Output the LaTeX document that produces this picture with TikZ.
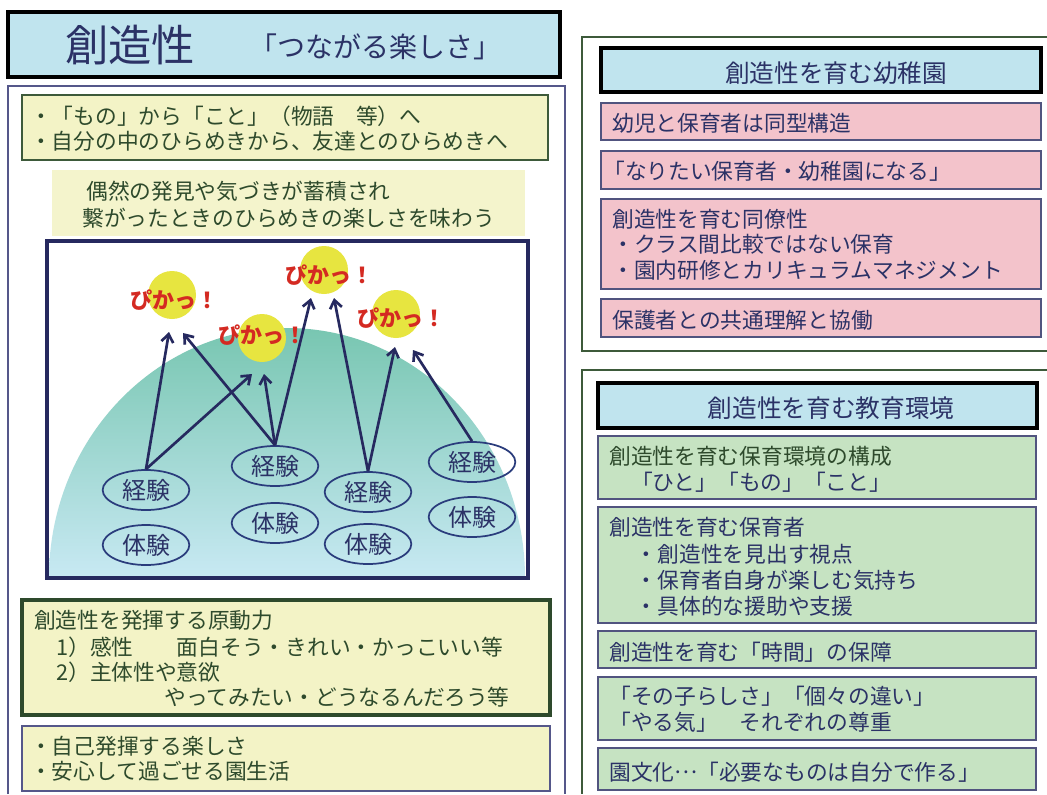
\documentclass[tikz,border=0pt]{standalone}
\usepackage{fontspec}
\newfontfamily\jp{Noto Sans CJK JP}
\usetikzlibrary{arrows.meta,shapes.geometric}
\definecolor{navyT}{HTML}{2B3266}
\definecolor{greenT}{HTML}{2E4A2C}
\definecolor{navyB}{HTML}{26295F}
\definecolor{frameL}{HTML}{55578A}
\definecolor{frameR}{HTML}{3D5A3A}
\definecolor{skyF}{HTML}{C0E4EE}
\definecolor{yelF}{HTML}{F3F3C6}
\definecolor{yel2F}{HTML}{F4F4CC}
\definecolor{pinkF}{HTML}{F3C3CB}
\definecolor{grnF}{HTML}{C6E3C2}
\definecolor{domeTop}{HTML}{78C6B1}
\definecolor{domeBot}{HTML}{C8E9F3}
\definecolor{sunY}{HTML}{E7E540}
\definecolor{pikaR}{HTML}{D42A22}
\definecolor{ovalB}{HTML}{2A3C7C}
\tikzset{
  base/.style={font={\jp\fontsize{16.3pt}{19.5pt}\selectfont}},
  ln/.style={base, anchor=west, inner sep=0pt, text=navyT},
  lng/.style={ln, text=greenT},
  head/.style={base, font={\jp\fontsize{18.5pt}{22pt}\selectfont}, inner sep=0pt, text=navyT},
  pinkbox/.style={draw=navyB!80, line width=1.2pt, fill=pinkF},
  grnbox/.style={draw=navyB!80, line width=1.2pt, fill=grnF},
  skybox/.style={draw=black, line width=2.6pt, fill=skyF},
  oval/.style={ellipse, draw=ovalB, line width=1.3pt, minimum width=65pt, minimum height=30pt, inner sep=0pt,
     text=navyT, font={\jp\fontsize{18pt}{20pt}\selectfont}},
  sun/.style={circle, fill=sunY, minimum size=36pt, inner sep=0pt},
  pika/.style={inner sep=0pt, text=pikaR, font={\jp\bfseries\fontsize{16.5pt}{18pt}\selectfont}},
  arr/.style={draw=navyB, line width=2pt, -{Straight Barb[length=6pt,width=9pt,line width=2pt]}}
}
\begin{document}
\begin{tikzpicture}[x=0.75pt,y=-0.75pt]
\useasboundingbox (0,0) rectangle (1047,794);
\fill[white] (0,0) rectangle (1047,794);
% ---------------- left column ----------------
\draw[skybox] (8,12) rectangle (560,77);
\node[inner sep=0pt, text=navyT, font={\jp\fontsize{32.5pt}{34pt}\selectfont}] (ttl) at (130,45) {創造性};
\node[inner sep=0pt, text=navyT, font={\jp\fontsize{21pt}{24pt}\selectfont}] (sub) at (375,47) {「つながる楽しさ」};
\draw[frameL, line width=1.6pt] (8,794) -- (8,86) -- (565,86) -- (565,794);
% box 1
\draw[draw=frameR, line width=1.3pt, fill=yelF] (22,95) rectangle (548,160);
\node[lng] (b1a) at (30,116) {・「もの」から「こと」（物語　等）へ};
\node[lng] (b1b) at (30,141) {・自分の中のひらめきから、友達とのひらめきへ};
% box 2
\fill[yel2F] (52,170) rectangle (525,236);
\node[lng] (b2a) at (86,191) {偶然の発見や気づきが蓄積され};
\node[lng] (b2b) at (82,218) {繋がったときのひらめきの楽しさを味わう};
% diagram
\fill[white] (47,241) rectangle (528,578);
\begin{scope}
  \clip (49,243) rectangle (526,576);
  \shade[top color=domeTop, bottom color=domeBot] (49,578) arc[start angle=180, end angle=360, x radius=238, y radius=250] -- cycle;
\end{scope}
\draw[navyB, line width=2.6pt] (47,241) rectangle (528,578);
\node[sun] (s1) at (172,295) {};
\node[sun] (s2) at (262,338) {};
\node[sun] (s3) at (324,270) {};
\node[sun] (s4) at (396,314) {};
\node[pika] (k1) at (174,300) {ぴかっ！};
\node[pika] (k2) at (262,335) {ぴかっ！};
\node[pika] (k3) at (329,275) {ぴかっ！};
\node[pika] (k4) at (401,318) {ぴかっ！};
\node[oval] (e1) at (146,490) {経験};
\node[oval] (t1) at (146,545) {体験};
\node[oval] (e2) at (275,466) {経験};
\node[oval] (t2) at (275,523) {体験};
\node[oval] (e3) at (368,492) {経験};
\node[oval] (t3) at (368,544) {体験};
\node[oval] (e4) at (472,462) {経験};
\node[oval] (t4) at (472,517) {体験};
\coordinate (p1a) at (169,332);
\coordinate (p1b) at (183,333);
\coordinate (p2a) at (252,374);
\coordinate (p2b) at (264,374);
\coordinate (p3a) at (311,298);
\coordinate (p3b) at (334,298);
\coordinate (p4a) at (395,347);
\coordinate (p4b) at (413,350);
\draw[arr] (e1.north) -- (p1a);
\draw[arr] (e1.north) -- (p2a);
\draw[arr] (e2.north) -- (p1b);
\draw[arr] (e2.north) -- (p2b);
\draw[arr] (e2.north) -- (p3a);
\draw[arr] (e3.north) -- (p3b);
\draw[arr] (e3.north) -- (p4a);
\draw[arr] (e4.north) -- (p4b);
% box 3
\draw[draw=greenT, line width=3pt, fill=yelF] (22,600) rectangle (550,715);
\node[lng] (b3a) at (34,620) {創造性を発揮する原動力};
\node[lng] (b3b) at (56,647) {1）感性　　面白そう・きれい・かっこいい等};
\node[lng] (b3c) at (56,672) {2）主体性や意欲};
\node[lng] (b3d) at (164,697) {やってみたい・どうなるんだろう等};
% box 4
\draw[draw=frameL, line width=1.3pt, fill=yelF] (22,726) rectangle (550,791);
\node[lng] (b4a) at (30,746) {・自己発揮する楽しさ};
\node[lng] (b4b) at (30,771) {・安心して過ごせる園生活};
% ---------------- right column top ----------------
\draw[frameR, line width=1.6pt] (1047,37) -- (582,37) -- (582,351) -- (1047,351);
\draw[skybox] (601,48) rectangle (1041,92);
\node[head] (h1) at (836,73) {創造性を育む幼稚園};
\draw[pinkbox] (601,103) rectangle (1041,140);
\node[ln] (r1) at (612,123) {幼児と保育者は同型構造};
\draw[pinkbox] (601,151) rectangle (1041,189);
\node[ln] (r2) at (603,171) {「なりたい保育者・幼稚園になる」};
\draw[pinkbox] (601,199) rectangle (1041,289);
\node[ln] (r3a) at (612,219) {創造性を育む同僚性};
\node[ln] (r3b) at (612,244) {・クラス間比較ではない保育};
\node[ln] (r3c) at (612,270) {・園内研修とカリキュラムマネジメント};
\draw[pinkbox] (601,299) rectangle (1041,337);
\node[ln] (r4) at (612,320) {保護者との共通理解と協働};
% ---------------- right column bottom ----------------
\draw[frameR, line width=1.6pt] (1047,370) -- (582,370) -- (582,794);
\draw[skybox] (598,383) rectangle (1037,428);
\node[head] (h2) at (831,408) {創造性を育む教育環境};
\draw[grnbox] (598,436) rectangle (1036,499);
\node[lng] (g1a) at (609,456) {創造性を育む保育環境の構成};
\node[ln] (g1b) at (609,482) {　「ひと」「もの」「こと」};
\draw[grnbox] (598,507) rectangle (1036,623);
\node[ln] (g2a) at (609,527) {創造性を育む保育者};
\node[ln] (g2b) at (609,554) {　 ・創造性を見出す視点};
\node[ln] (g2c) at (609,580) {　 ・保育者自身が楽しむ気持ち};
\node[ln] (g2d) at (609,606) {　 ・具体的な援助や支援};
\draw[grnbox] (598,631) rectangle (1036,668);
\node[ln] (g3) at (609,652) {創造性を育む「時間」の保障};
\draw[grnbox] (598,677) rectangle (1036,740);
\node[ln] (g4a) at (609,696) {「その子らしさ」「個々の違い」};
\node[ln] (g4b) at (609,722) {「やる気」　それぞれの尊重};
\draw[grnbox] (598,748) rectangle (1036,790);
\node[ln] (g5) at (609,772) {園文化\raisebox{0.3em}{…}「必要なものは自分で作る」};
\end{tikzpicture}
\end{document}
